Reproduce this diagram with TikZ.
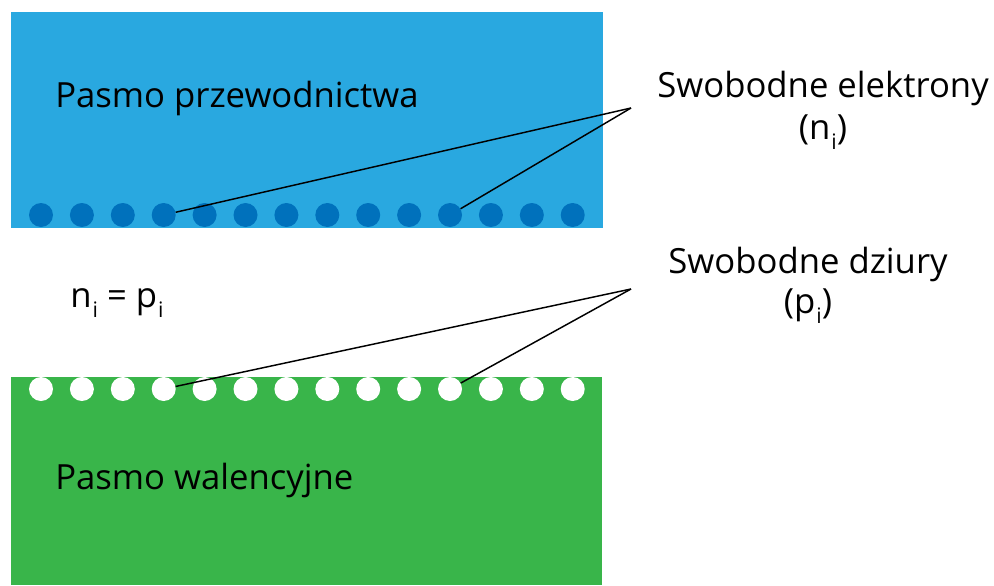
\documentclass[tikz,border=0pt]{standalone}
\usepackage{fontspec}
\setmainfont{Open Sans}
\usepackage{xcolor}
\definecolor{bandblue}{RGB}{41,168,224}
\definecolor{dotblue}{RGB}{0,113,188}
\definecolor{bandgreen}{RGB}{57,181,74}
\usetikzlibrary{positioning}
\newcommand{\lowidx}[1]{\kern0.8pt\raisebox{-0.3em}{\fontsize{16}{16}\selectfont #1}}

\begin{document}
\begin{tikzpicture}[x=0.75pt,y=-0.75pt,
    label/.style={font=\fontsize{26}{31}\selectfont, inner sep=0pt},
    electron/.style={circle, fill=dotblue, minimum size=18pt, inner sep=0pt},
    hole/.style={circle, fill=white, minimum size=18pt, inner sep=0pt},
    pointer/.style={line width=1.1pt, black}]
    \useasboundingbox (0,0) rectangle (994,585);

    % Bands
    \fill[bandblue] (11,12) rectangle (603,228);
    \fill[bandgreen] (11,377) rectangle (602,585);

    % Carriers along the band edges
    \foreach \i in {1,...,14} {
        \node[electron] (e\i) at ({41+40.9*(\i-1)},215) {};
        \node[hole] (h\i) at ({41+40.9*(\i-1)},389) {};
    }

    % Labels
    \node[label, anchor=west] (conduction) at (55,98) {Pasmo przewodnictwa};
    \node[label, anchor=west] (valence) at (55,480) {Pasmo walencyjne};
    \node[label] (equal) at (117,303) {n\lowidx{i} = p\lowidx{i}};
    \node[label] (electrons) at (823,88) {Swobodne elektrony};
    \node[label] (nsym) at (823,132) {(n\lowidx{i})};
    \node[label] (holes) at (808,264) {Swobodne dziury};
    \node[label] (psym) at (808,306) {(p\lowidx{i})};

    % Pointers
    \coordinate (tipE) at (631,108);
    \coordinate (tipH) at (631,289);
    \draw[pointer] (tipE) -- (e4);
    \draw[pointer] (tipE) -- (e11);
    \draw[pointer] (tipH) -- (h4);
    \draw[pointer] (tipH) -- (h11);
\end{tikzpicture}
\end{document}
